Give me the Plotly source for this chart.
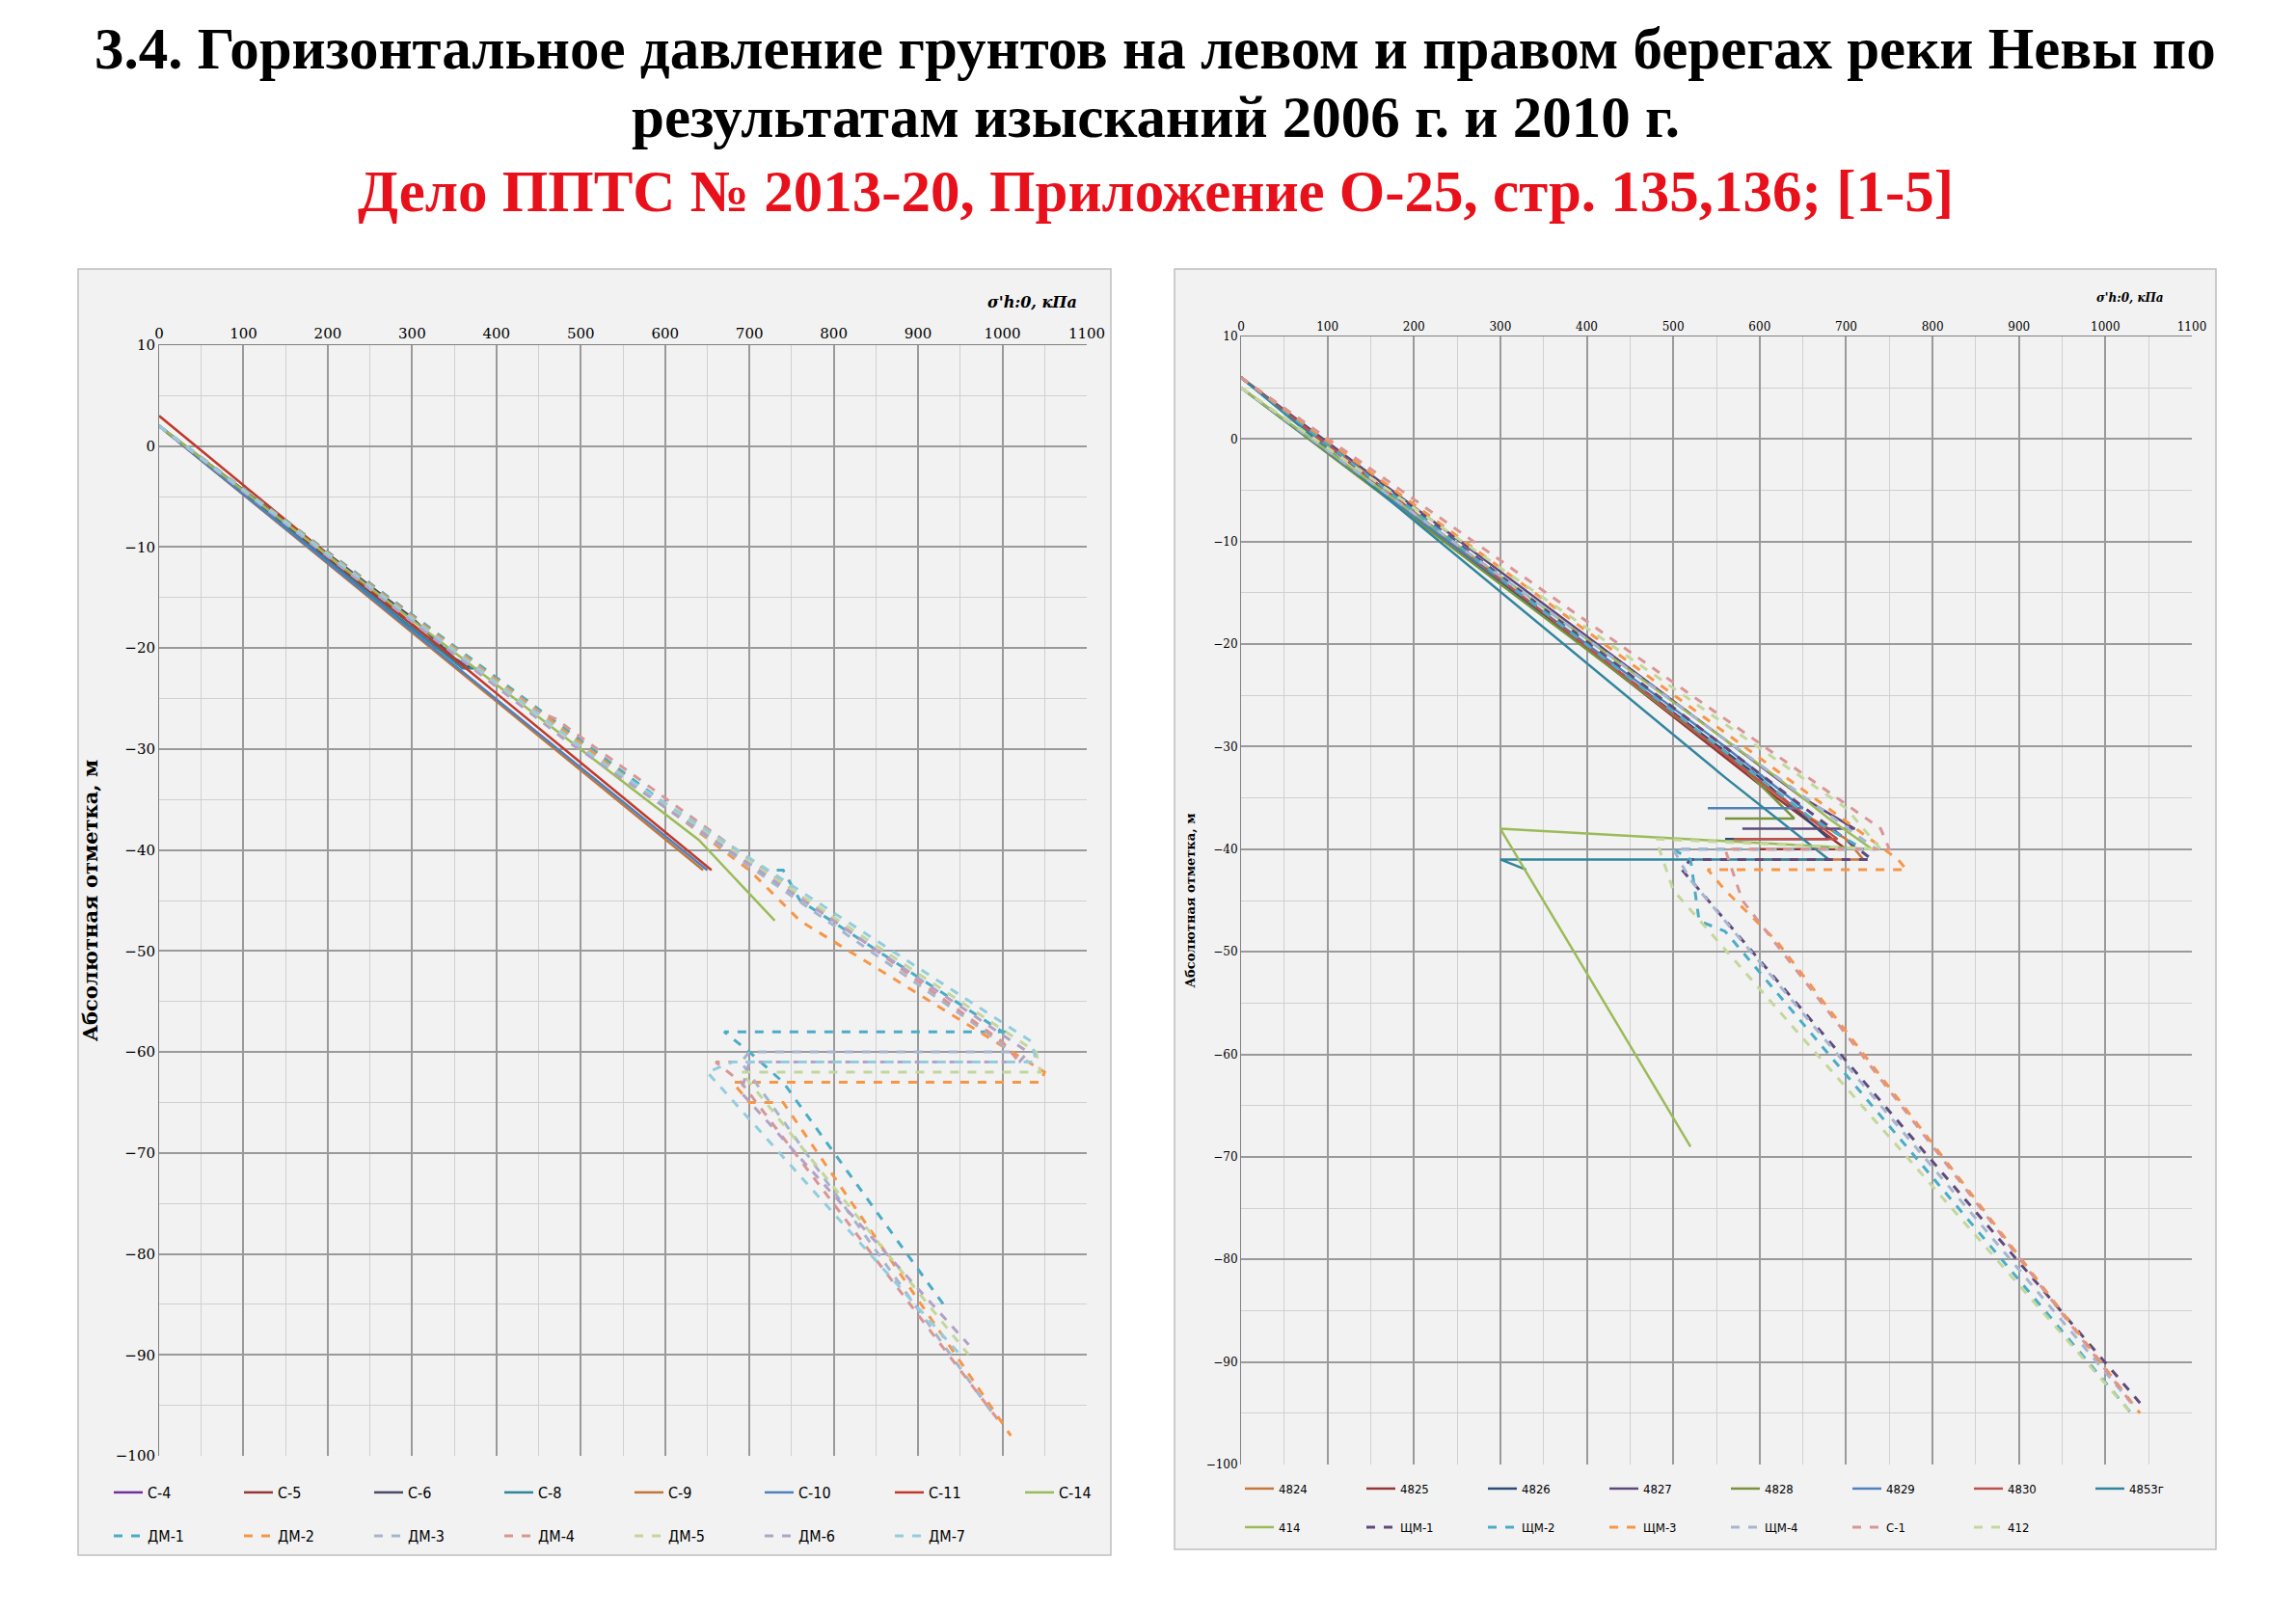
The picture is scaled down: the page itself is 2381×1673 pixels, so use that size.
import plotly.graph_objects as go

W, H = 2381, 1673
# ---------- left chart data (x = kPa, y = m) ----------
L_names = ["С-4","С-5","С-6","С-8","С-9","С-10","С-11","С-14",
           "ДМ-1","ДМ-2","ДМ-3","ДМ-4","ДМ-5","ДМ-6","ДМ-7"]
L_colors = ["#7030a0","#953735","#4a4a6a","#31849b","#c0773b","#4f81bd","#c0392b","#9bbb59",
            "#4bacc6","#f79646","#a5b5cc","#d99694","#c3d69b","#b3a2c7","#93cddd"]
L_dash = [False]*8 + [True]*7
L_x = [[0,280,300,330],[0,290,320,360],[0,300,350,370],[0,330,360,380],[0,645],
       [0,650],[0,655],[0,640,730],
       [0,690,720,740,760,1000,1010,670,700,740,930],
       [0,700,760,1050,1045,680,700,740,1010],
       [0,420,450,980,1010,700,690,990],
       [0,440,470,1000,1020,660,690,1000],
       [0,500,1040,1045,690,700,960],
       [0,480,1030,1020,700,690,960],
       [0,520,1035,1040,680,650,950]]
L_y = [[2,-17,-18,-20],[2,-17,-19,-22],[2,-17,-21,-22],[2,-20,-22,-22],[2,-42],
       [2,-42],[3,-42],[2,-39,-47],
       [2,-41,-42,-42,-45,-58,-58,-58,-60,-63,-85],
       [2,-42,-47,-62,-63,-63,-65,-65,-98],
       [2,-25,-27,-58,-60,-60,-61,-96],
       [2,-26,-27,-59,-61,-61,-63,-97],
       [2,-30,-60,-62,-62,-63,-90],
       [2,-29,-60,-61,-61,-64,-89],
       [2,-31,-59,-61,-61,-62,-90]]

# ---------- right chart data ----------
R_names = ["4824","4825","4826","4827","4828","4829","4830","4853г",
           "414","ЩМ-1","ЩМ-2","ЩМ-3","ЩМ-4","С-1","412"]
R_colors = ["#c8773a","#953735","#2c4d75","#5f497a","#77933c","#4f81bd","#c0504d","#31859c",
            "#9bbb59","#604a7b","#4bacc6","#f79646","#a6b6cf","#d99694","#c4d79b"]
R_dash = [False]*9 + [True]*6
R_x = [[0,640,700,720,600],[0,620,700,600],[0,600,680,560],[0,650,710,580],[0,580,640,560],
       [0,560,650,540],[0,610,690,570],[0,560,680,300,330],
       [0,620,680,730,300,520],
       [0,700,730,520,510,1040],[0,660,720,500,520,530,560,1030],
       [0,760,770,540,560,620,1040],[0,720,735,500,520,1030],[0,740,750,560,580,1030],
       [0,700,740,480,500,1030]]
R_y = [[6,-36,-39,-41,-41],[6,-35,-40,-40],[5,-33,-39,-39],[6,-35,-38,-38],[5,-32,-37,-37],
       [5,-30,-36,-36],[6,-34,-39,-39],[6,-33,-41,-41,-42],
       [5,-33,-37,-40,-38,-69],
       [6,-39,-41,-41,-42,-94],[6,-37,-40,-40,-41,-47,-48,-95],
       [6,-41,-42,-42,-44,-49,-95],[5,-39,-40,-40,-43,-94],[6,-38,-40,-40,-45,-94],
       [5,-36,-40,-39,-44,-95]]

fig = go.Figure()
def add(names, colors, dashes, xs, ys, xa, ya, legs):
    for i, (n, c, d, x, y) in enumerate(zip(names, colors, dashes, xs, ys)):
        fig.add_trace(go.Scatter(x=x, y=y, mode="lines", name=n, xaxis=xa, yaxis=ya,
                                 legend=legs[0] if i < 8 else legs[1],
                                 line=dict(color=c, width=3 if d else 2.5,
                                           dash="dash" if d else "solid")))
add(L_names, L_colors, L_dash, L_x, L_y, "x", "y", ["legend", "legend2"])
add(R_names, R_colors, R_dash, R_x, R_y, "x2", "y2", ["legend3", "legend4"])

OFF = 7
def px2x(p): return (p - OFF) / W
def px2y(p): return 1 - (p - OFF) / H

for x0, x1, y0, y1 in [(80, 1151, 278, 1612), (1217, 2297, 278, 1606)]:
    fig.add_shape(type="rect", xref="paper", yref="paper", x0=px2x(x0), x1=px2x(x1),
                  y0=px2y(y1), y1=px2y(y0), fillcolor="#f2f2f2",
                  line=dict(color="#bfbfbf", width=1.5), layer="below")

def ax(fs):
    return dict(range=[0, 1100], side="top", tickvals=list(range(0, 1101, 100)),
                showgrid=True, gridcolor="#9a9a9a", gridwidth=1.5, automargin=False,
                minor=dict(dtick=50, showgrid=True, gridcolor="#d0d0d0", gridwidth=1.2),
                showline=True, linecolor="#808080", tickfont=dict(size=fs, family="DejaVu Serif"),
                zeroline=False, ticks="")
def ay(fs):
    return dict(range=[-100, 10], tickvals=list(range(-100, 11, 10)), showgrid=True,
                gridcolor="#9a9a9a", gridwidth=1.5, automargin=False,
                minor=dict(dtick=5, showgrid=True, gridcolor="#d0d0d0", gridwidth=1.2),
                showline=True, linecolor="#808080", zeroline=False,
                tickfont=dict(size=fs, family="DejaVu Serif"), ticks="")

def leg(x, y, ew, fs):
    return dict(orientation="h", x=x, y=y, xanchor="left", yanchor="top",
                xref="container", yref="container",
                entrywidth=ew, entrywidthmode="pixels", bgcolor="rgba(0,0,0,0)",
                font=dict(size=fs, family="DejaVu Sans Condensed", color="black"))

fig.update_layout(
    width=W, height=H, paper_bgcolor="white", plot_bgcolor="white",
    margin=dict(l=0, r=0, t=0, b=0, autoexpand=False), font=dict(family="DejaVu Serif", color="black"),
    xaxis=dict(ax(15), domain=[px2x(164), px2x(1126)], anchor="y"),
    yaxis=dict(ay(15), domain=[px2y(1509), px2y(357)], anchor="x",
               title=dict(text="<b>Абсолютная отметка, м</b>", font=dict(size=21), standoff=12)),
    xaxis2=dict(ax(12), domain=[px2x(1286), px2x(2272)], anchor="y2"),
    yaxis2=dict(ay(12), domain=[px2y(1518), px2y(348)], anchor="x2",
                title=dict(text="<b>Абсолютная отметка, м</b>", font=dict(size=13), standoff=8)),
    legend=leg(px2x(112), px2y(1530), 90, 16),
    legend2=leg(px2x(112), px2y(1575), 90, 16),
    legend3=leg(px2x(1285), px2y(1528), 81, 13),
    legend4=leg(px2x(1285), px2y(1568), 81, 13),
    showlegend=True,
)

anns = [
    (px2y(50), "<b>3.4. Горизонтальное давление грунтов на левом и правом берегах реки Невы по</b>", "black"),
    (px2y(121), "<b>результатам изысканий 2006 г. и 2010 г.</b>", "black"),
    (px2y(197), "<b>Дело ППТС № 2013-20, Приложение О-25, стр. 135,136; [1-5]</b>", "#e8111b"),
]
for y, t, c in anns:
    fig.add_annotation(x=px2x(1197), y=y, xref="paper", yref="paper", yanchor="middle",
                       text=t, showarrow=False,
                       font=dict(size=61, color=c, family="Liberation Serif"))
fig.add_annotation(x=px2x(1118), y=px2y(312), xref="paper", yref="paper", xanchor="right",
                   yanchor="middle", text="<b><i>σ'h:0, кПа</i></b>", showarrow=False, font=dict(size=16))
fig.add_annotation(x=px2x(2245), y=px2y(308), xref="paper", yref="paper", xanchor="right",
                   yanchor="middle", text="<b><i>σ'h:0, кПа</i></b>", showarrow=False, font=dict(size=12))

fig.write_html("out.html")
